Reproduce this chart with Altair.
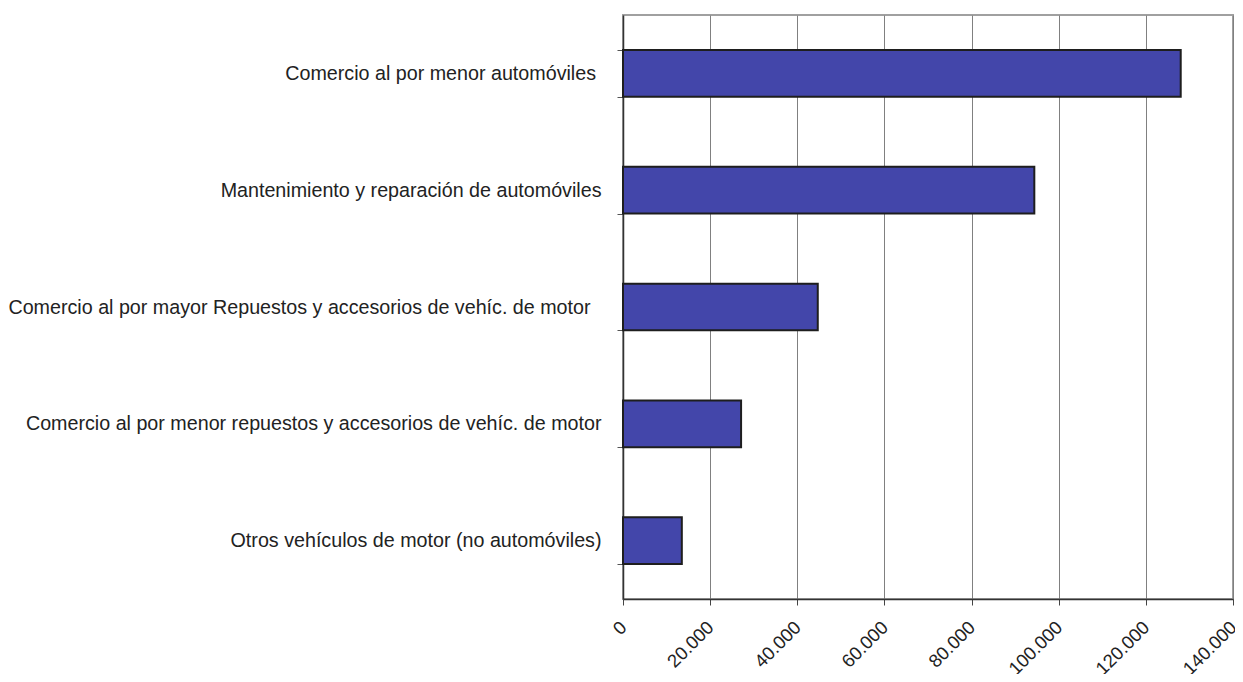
import altair as alt
import pandas as pd

categories = [
    "Comercio al por menor automóviles\u00a0\u200b",
    "Mantenimiento y reparación de automóviles",
    "Comercio al por mayor Repuestos y accesorios de vehíc. de motor\u00a0\u00a0\u200b",
    "Comercio al por menor repuestos y accesorios de vehíc. de motor",
    "Otros vehículos de motor (no automóviles)",
]
values = [128000, 94400, 44700, 27100, 13500]
x_ticks = [0, 20000, 40000, 60000, 80000, 100000, 120000, 140000]

df = pd.DataFrame({"cat": categories, "value": values})

FONT = "Liberation Sans"

chart = (
    alt.Chart(df)
    .mark_bar(fill="#4346AA", stroke="#1e1e1e", strokeWidth=2)
    .encode(
        x=alt.X(
            "value:Q",
            scale=alt.Scale(domain=[0, 140000], nice=False, zero=True),
            axis=alt.Axis(
                title=None,
                values=x_ticks,
                labelExpr="replace(format(datum.value, ','), ',', '.')",
                labelAngle=-45,
                labelAlign="right",
                labelBaseline="middle",
                labelPadding=19,
                labelFont=FONT,
                labelFontSize=18.5,
                labelColor="#222222",
                labelFlush=False,
                labelOverlap=False,
                grid=True,
                gridColor="#808080",
                gridWidth=1,
                tickSize=6,
                tickColor="#444444",
                domainColor="#333333",
                domainWidth=1.5,
            ),
        ),
        y=alt.Y(
            "cat:N",
            sort=categories,
            scale=alt.Scale(paddingInner=0.6, paddingOuter=0.3),
            axis=alt.Axis(
                title=None,
                tickBand="extent",
                grid=False,
                labelPadding=16,
                labelFont=FONT,
                labelFontSize=19.7,
                labelColor="#222222",
                labelLimit=1000,
                tickSize=6,
                tickColor="#555555",
                domainColor="#333333",
                domainWidth=1.5,
            ),
        ),
    )
    .properties(
        width=610,
        height=584,
        autosize=alt.AutoSizeParams(type="none"),
        padding={"left": 615, "top": 7, "right": 2, "bottom": 75},
    )
    .configure_view(stroke="#a0a0a0", strokeWidth=2)
)

chart.save("out.html", embed_options={"renderer": "svg", "actions": False})
